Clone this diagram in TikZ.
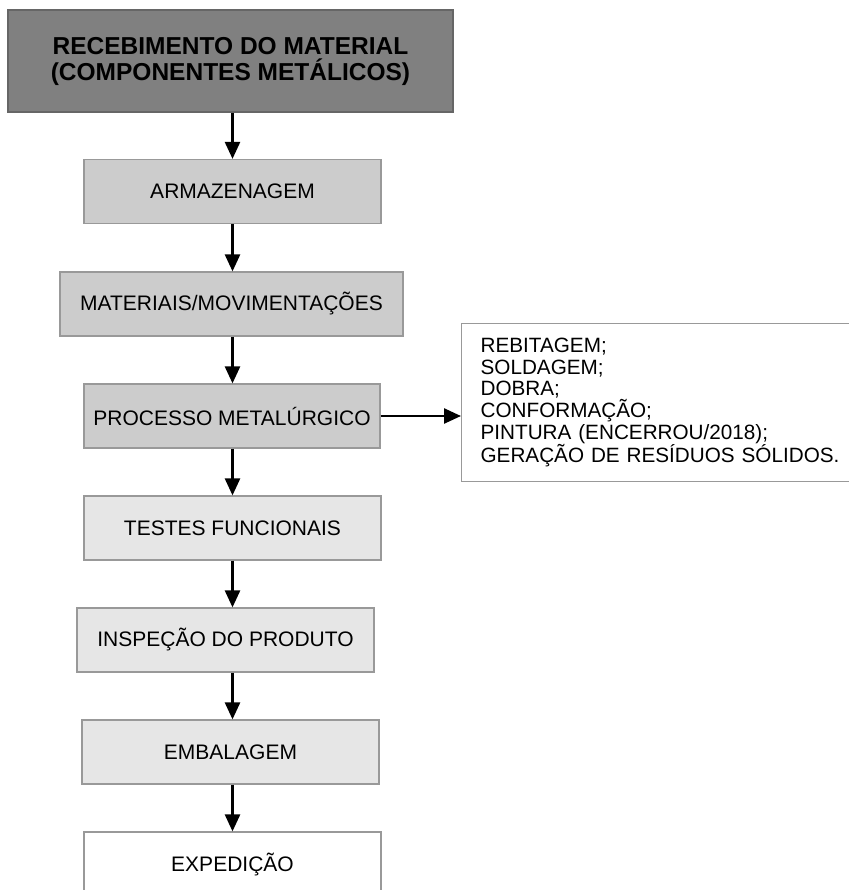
\documentclass[tikz,border=0pt]{standalone}
\usepackage{fontspec}
\setmainfont{Liberation Sans}
\usetikzlibrary{positioning,calc,arrows.meta}
\definecolor{darkbox}{HTML}{808080}
\definecolor{midbox}{HTML}{CCCCCC}
\definecolor{lightbox}{HTML}{E6E6E6}
\definecolor{edge}{HTML}{999999}

\begin{document}
\begin{tikzpicture}[x=1pt,y=-1pt,
    etapa/.style={rectangle,draw=edge,line width=1.2pt,minimum width=297pt,minimum height=64pt,
        inner sep=0pt,font=\fontsize{21}{22.5}\selectfont},
    flow/.style={-{Triangle[width=15pt,length=17pt]},line width=2.5pt}]

\useasboundingbox (0,0) rectangle (848,890);

% entrada
\node[etapa,fill=darkbox,draw=black!60,minimum width=445pt,minimum height=102pt,align=center,
    font=\fontsize{24.5}{26}\selectfont\bfseries] (receb) at (230.5,61)
    {RECEBIMENTO DO MATERIAL\\(COMPONENTES METÁLICOS)};

% etapas do processo
\node[etapa,fill=midbox] (armaz) at (232.5,191.5) {ARMAZENAGEM};
\node[etapa,fill=midbox,minimum width=343pt] (movim) at (231.5,304) {MATERIAIS/MOVIMENTAÇÕES};
\node[etapa,fill=midbox,minimum width=296pt] (metal) at (232,416) {PROCESSO METALÚRGICO};
\node[etapa,fill=lightbox] (testes) at (232.5,528) {TESTES FUNCIONAIS};
\node[etapa,fill=lightbox] (inspec) at (225.5,640) {INSPEÇÃO DO PRODUTO};
\node[etapa,fill=lightbox] (embal) at (230.5,752) {EMBALAGEM};
\node[etapa,fill=white] (exped) at (232.5,864) {EXPEDIÇÃO};

% detalhe do processo metalurgico
\node[rectangle,draw=edge,line width=1.2pt,fill=white,anchor=north west,minimum width=400pt,
    minimum height=158pt,text width=362pt,inner xsep=19pt,inner ysep=0pt,align=left,
    font=\fontsize{20.7}{21.8}\selectfont] (detalhe) at (461,323)
    {REBITAGEM;\\SOLDAGEM;\\DOBRA;\\CONFORMAÇÃO;\\PINTURA (ENCERROU/2018);\\GERAÇÃO DE RESÍDUOS SÓLIDOS.};

% fluxo
\draw[flow] (receb.south -| armaz) -- (armaz.north);
\draw[flow] (armaz.south) -- (movim.north -| armaz);
\draw[flow] (movim.south -| armaz) -- (metal.north -| armaz);
\draw[flow] (metal.south -| armaz) -- (testes.north);
\draw[flow] (testes.south) -- (inspec.north -| armaz);
\draw[flow] (inspec.south -| armaz) -- (embal.north -| armaz);
\draw[flow] (embal.south -| armaz) -- (exped.north);
\draw[flow] (metal.east) -- (metal.east -| detalhe.west);

\end{tikzpicture}
\end{document}
